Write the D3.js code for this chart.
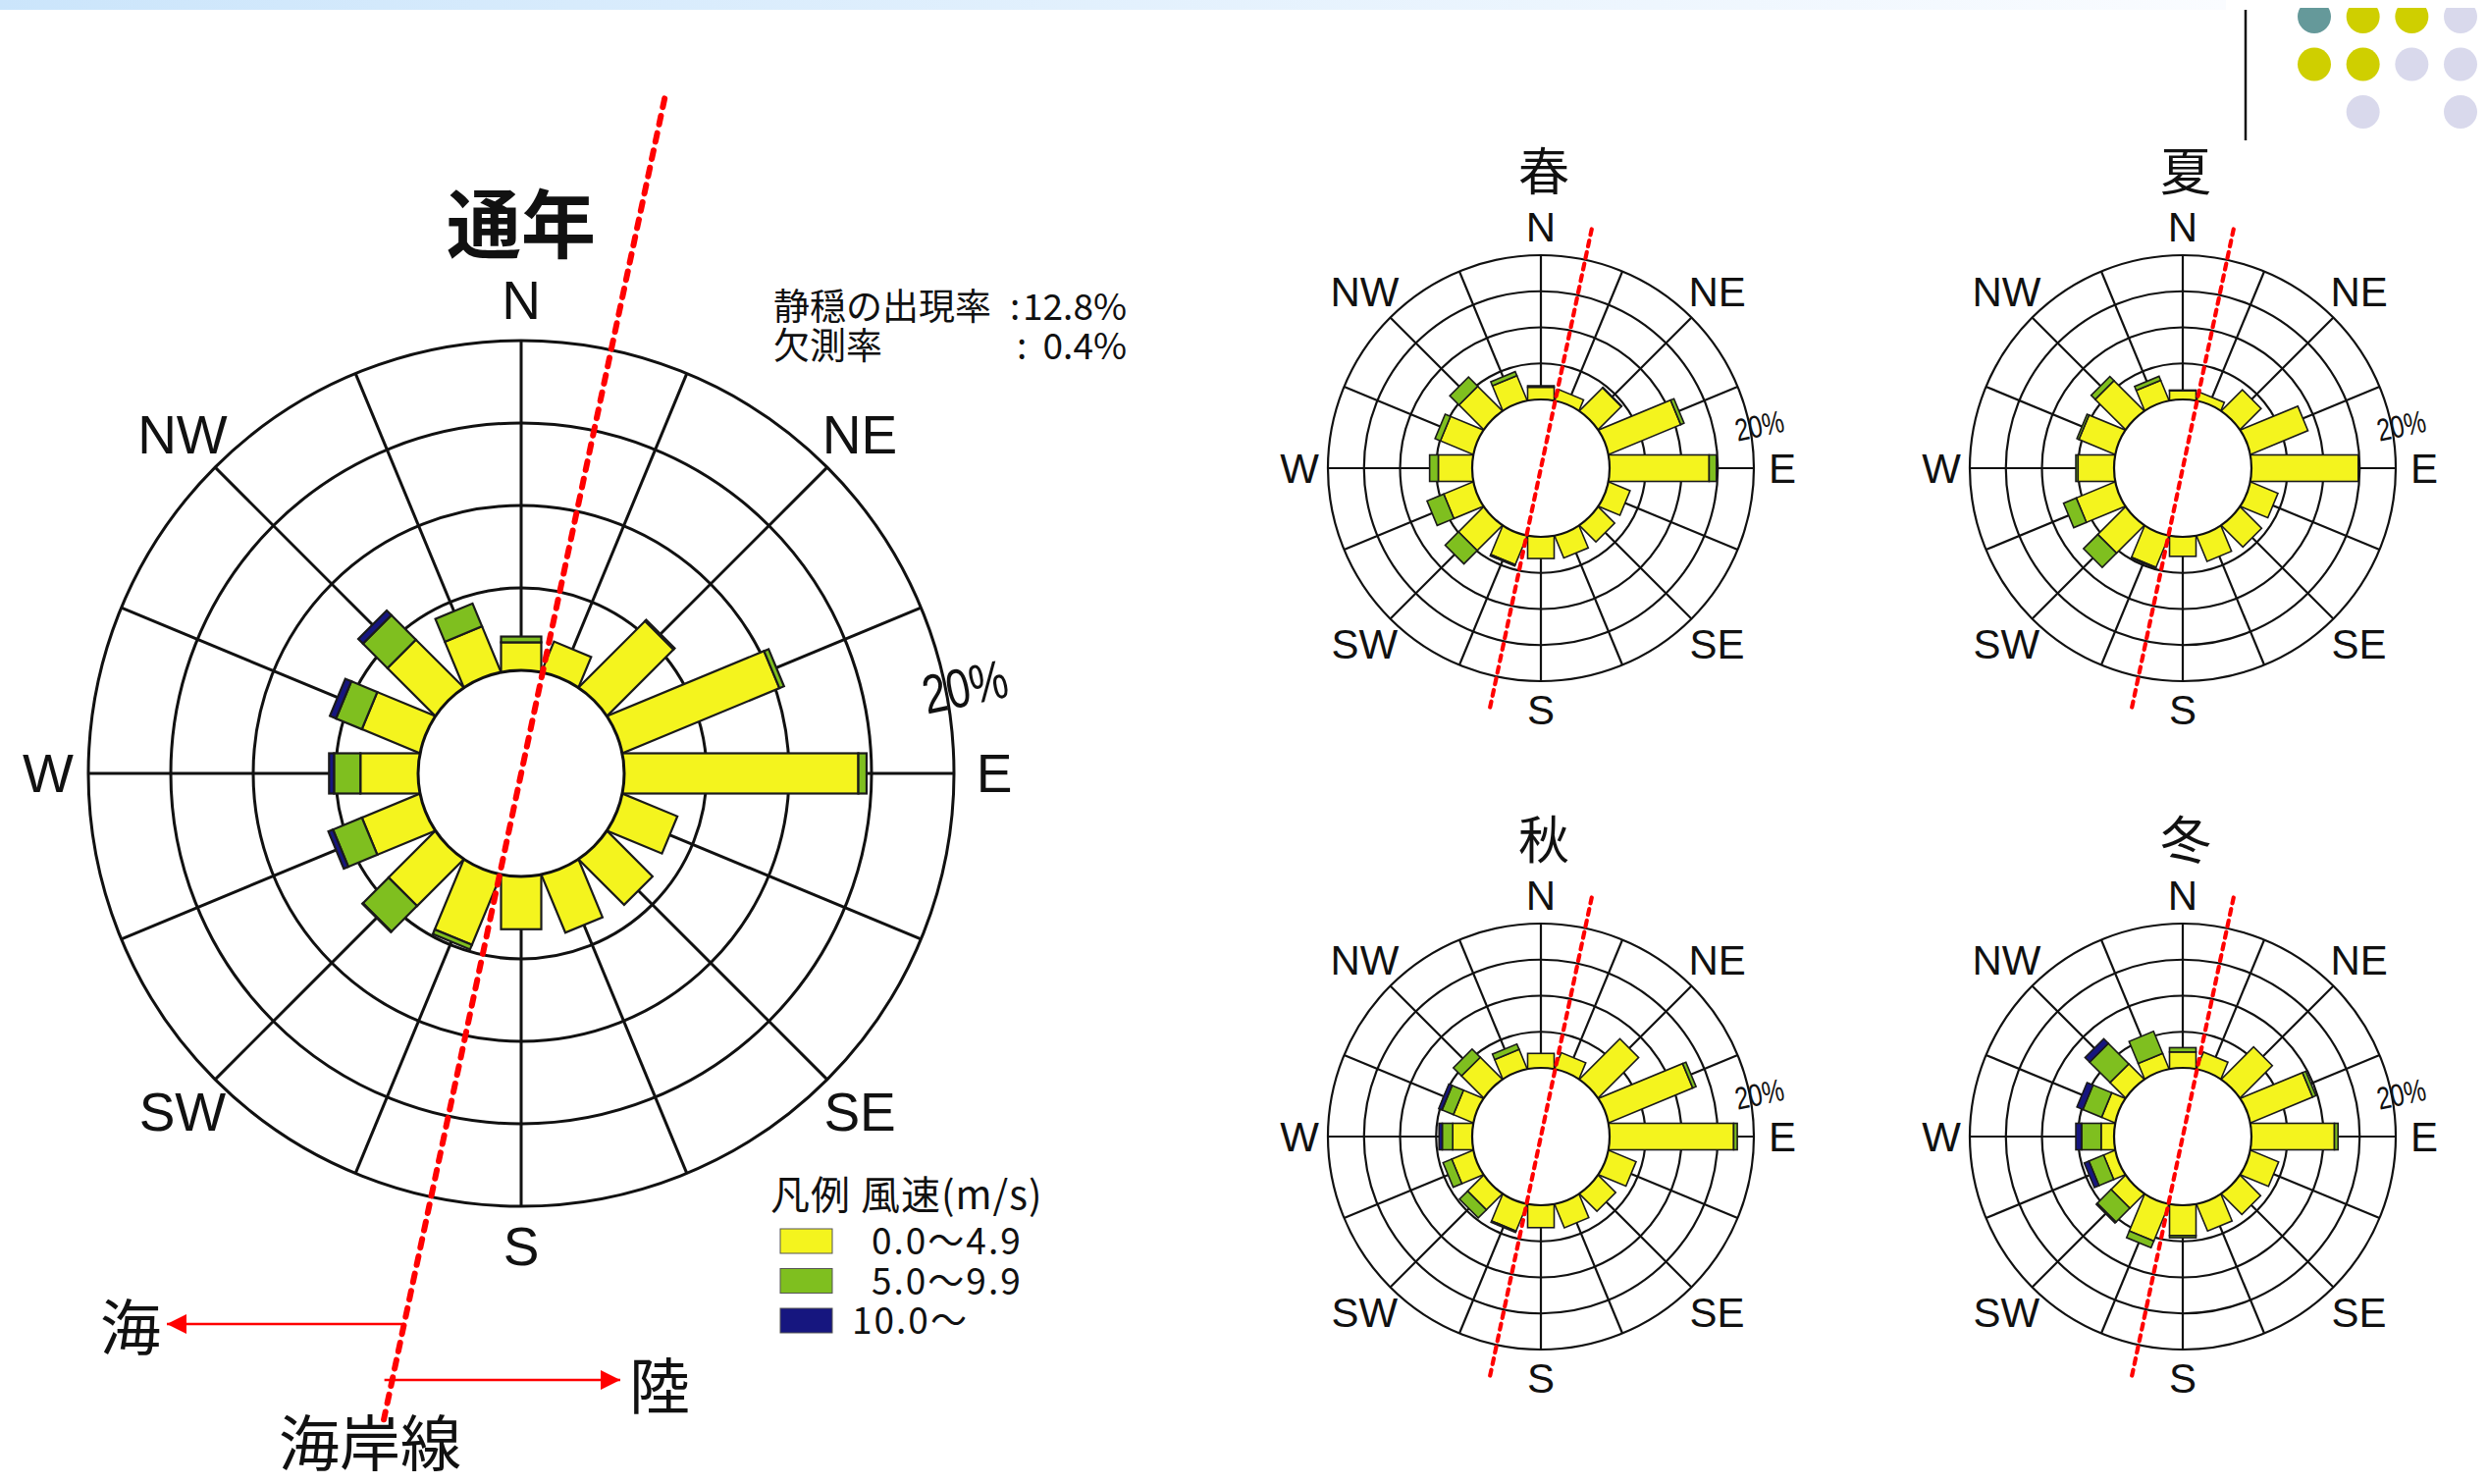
<!DOCTYPE html>
<html>
<head>
<meta charset="utf-8">
<script src="https://cdn.jsdelivr.net/npm/d3@7"></script>
<style>
  body { margin: 0; background: #fff; }
  svg { display: block; }
</style>
</head>
<body>
<div id="chart"></div>
<script>
// 16 wind directions, clockwise from north
const directions = ['N','NNE','NE','ENE','E','ESE','SE','SSE','S','SSW','SW','WSW','W','WNW','NW','NNW'];
const compassLabels = ['N','NE','E','SE','S','SW','W','NW'];
const ringTicks = [5, 10, 15, 20];
const speedKeys = ['low', 'mid', 'high'];
const speedLabels = ['0.0～4.9', '5.0～9.9', '10.0～'];
const speedColors = ['#f4f41e', '#7fbf1f', '#16167f'];

// frequency (%) per direction, split by wind speed class
// 通年
const annualLow  = [1.7, 1.9, 5.6, 10.2, 14.2, 3.5, 3.8, 3.7, 3.2, 4.5, 3.9, 3.7, 3.5, 3.7, 4.0, 2.9];
const annualMid  = [0.35, 0, 0.1, 0.3, 0.5, 0, 0, 0, 0, 0.3, 2.2, 1.9, 1.6, 1.7, 2.1, 1.5];
const annualHigh = [0, 0, 0, 0, 0, 0, 0, 0, 0, 0, 0.05, 0.3, 0.3, 0.4, 0.4, 0];
// 春
const springLow  = [1.7, 1.5, 4.4, 10.7, 13.8, 3.1, 3.1, 3.2, 3.0, 4.2, 4.8, 4.3, 4.7, 4.8, 4.7, 3.6];
const springMid  = [0.2, 0, 0.1, 0.5, 1.0, 0, 0, 0, 0, 0.2, 2.6, 2.5, 1.2, 0.8, 1.8, 0.6];
const springHigh = [0, 0, 0, 0, 0, 0, 0, 0, 0, 0, 0, 0, 0, 0, 0, 0];
// 夏
const summerLow  = [1.2, 1.1, 4.0, 8.5, 14.8, 4.0, 4.1, 3.7, 2.7, 4.6, 5.3, 5.7, 5.0, 5.3, 5.8, 2.9];
const summerMid  = [0.1, 0, 0, 0, 0, 0, 0, 0, 0, 0.15, 2.8, 1.9, 0.3, 0.3, 0.8, 0.6];
const summerHigh = [0, 0, 0, 0, 0, 0, 0, 0, 0, 0, 0, 0, 0, 0, 0, 0];
// 秋
const autumnLow  = [2.0, 2.3, 7.8, 12.5, 17.2, 4.0, 3.3, 3.4, 3.1, 3.9, 3.0, 3.1, 2.7, 2.85, 4.2, 2.8];
const autumnMid  = [0, 0, 0, 0.5, 0.5, 0, 0, 0, 0, 0.2, 1.6, 1.3, 1.45, 1.7, 1.6, 0.8];
const autumnHigh = [0, 0, 0, 0, 0, 0, 0, 0, 0, 0, 0, 0, 0.45, 0.5, 0, 0];
// 冬
const winterLow  = [2.2, 2.4, 6.2, 9.2, 11.5, 4.1, 3.9, 3.9, 4.2, 5.4, 2.7, 1.6, 1.8, 1.9, 2.9, 2.2];
const winterMid  = [0.6, 0, 0, 0.5, 0.5, 0, 0, 0, 0.3, 1.0, 2.7, 2.2, 2.7, 2.8, 4.0, 3.3];
const winterHigh = [0, 0, 0, 0, 0, 0, 0, 0, 0, 0, 0.2, 0.7, 0.8, 0.9, 0.9, 0];

const calmRate = '12.8%';
const missingRate = '0.4%';
const coastBearing = 12; // degrees from north

const W = 2535, H = 1512;
const svg = d3.select('#chart').append('svg')
  .attr('width', W).attr('height', H)
  .attr('viewBox', `0 0 ${W} ${H}`);

const defs = svg.append('defs');
const grad = defs.append('linearGradient').attr('id', 'topband');
grad.append('stop').attr('offset', '0%').attr('stop-color', '#cbe5fb');
grad.append('stop').attr('offset', '100%').attr('stop-color', '#fafcff');
defs.append('marker')
  .attr('id', 'arrowRed')
  .attr('viewBox', '0 0 10 10')
  .attr('refX', 10).attr('refY', 5)
  .attr('markerWidth', 8).attr('markerHeight', 8)
  .attr('markerUnits', 'strokeWidth')
  .attr('orient', 'auto')
  .append('path').attr('d', 'M0,0 L10,5 L0,10 Z').attr('fill', '#ff0000');
defs.append('clipPath').attr('id', 'dotClip')
  .append('rect').attr('x', 2290).attr('y', 8).attr('width', 245).attr('height', 150);

// slide decoration, top band + dots
svg.append('rect').attr('x', 0).attr('y', 0).attr('width', 2268).attr('height', 10)
  .attr('fill', 'url(#topband)');
svg.append('line').attr('x1', 2288).attr('x2', 2288).attr('y1', 10).attr('y2', 143)
  .attr('stroke', '#111').attr('stroke-width', 2.5);

const dotCols = [0, 1, 2, 3], dotRows = [0, 1, 2];
const dotColors = [
  ['#65999a', '#cfcf00', '#cfcf00', '#d9d9ec'],
  ['#cfcf00', '#cfcf00', '#d9d9ec', '#d9d9ec'],
  [null, '#d9d9ec', null, '#d9d9ec']
];
const dotX = d3.scalePoint().domain(dotCols).range([2358, 2507]);
const dotY = d3.scalePoint().domain(dotRows).range([17, 114]);
const dotG = svg.append('g').attr('clip-path', 'url(#dotClip)');
dotRows.forEach(r => dotCols.forEach(c => {
  if (!dotColors[r][c]) return;
  dotG.append('circle').attr('cx', dotX(c)).attr('cy', dotY(r)).attr('r', 17)
    .attr('fill', dotColors[r][c]);
}));

function buildRows(low, mid, high) {
  return directions.map((d, i) => ({ dir: d, low: low[i], mid: mid[i], high: high[i] }));
}

function drawRose(cfg) {
  const g = svg.append('g').attr('transform', `translate(${cfg.cx},${cfg.cy})`);
  const r = d3.scaleLinear().domain([0, 20]).range([cfg.inner, cfg.outer]);
  const angle = d3.scaleBand().domain(directions).range([0, 360]);
  const rad = a => a * Math.PI / 180;

  // rings
  g.selectAll('circle.ring').data(ringTicks).join('circle')
    .attr('class', 'ring')
    .attr('r', d => r(d))
    .attr('fill', 'none').attr('stroke', '#111').attr('stroke-width', cfg.grid);

  // spokes
  g.selectAll('line.spoke').data(directions).join('line')
    .attr('class', 'spoke')
    .attr('x1', d => cfg.inner * Math.sin(rad(angle(d))))
    .attr('y1', d => -cfg.inner * Math.cos(rad(angle(d))))
    .attr('x2', d => cfg.outer * Math.sin(rad(angle(d))))
    .attr('y2', d => -cfg.outer * Math.cos(rad(angle(d))))
    .attr('stroke', '#111').attr('stroke-width', cfg.grid);

  // stacked bars
  const stacked = d3.stack().keys(speedKeys)(cfg.rows);
  const segs = stacked.flatMap((s, k) => s.map(d => ({
    key: s.key, k, dir: d.data.dir, y0: d[0], y1: d[1]
  }))).filter(d => d.y1 - d.y0 > 0.001);
  const color = d3.scaleOrdinal().domain(speedKeys).range(speedColors);
  const hw = cfg.barWidth / 2;
  const base = Math.sqrt(cfg.inner * cfg.inner - hw * hw) - 2;

  g.selectAll('rect.seg').data(segs).join('rect')
    .attr('class', 'seg')
    .attr('transform', d => `rotate(${angle(d.dir)})`)
    .attr('x', -hw)
    .attr('width', cfg.barWidth)
    .attr('y', d => -r(d.y1))
    .attr('height', d => r(d.y1) - (d.y0 === 0 ? base : r(d.y0)))
    .attr('fill', d => color(d.key))
    .attr('stroke', '#1a1a1a').attr('stroke-width', cfg.barStroke);

  // calm circle
  g.append('circle').attr('r', cfg.inner)
    .attr('fill', '#fff').attr('stroke', '#111').attr('stroke-width', cfg.grid);

  // compass labels
  g.selectAll('text.dir').data(compassLabels).join('text')
    .attr('class', 'dir')
    .attr('x', d => {
      const rr = d.length > 1 ? cfg.labelDiag : cfg.labelR;
      return rr * Math.sin(rad(angle(d)));
    })
    .attr('y', d => {
      const rr = d.length > 1 ? cfg.labelDiag : cfg.labelR;
      return -rr * Math.cos(rad(angle(d)));
    })
    .attr('text-anchor', 'middle')
    .attr('dominant-baseline', 'central')
    .attr('font-family', "'Liberation Sans', Arial, sans-serif")
    .attr('font-size', cfg.labelSize)
    .attr('fill', '#111')
    .text(d => d);

  // 20% tick label (condensed, slightly tilted)
  const tickR = cfg.outer * 1.045, tickA = rad(79);
  g.append('text')
    .attr('transform', `translate(${tickR * Math.sin(tickA)},${-tickR * Math.cos(tickA)}) rotate(-12) scale(0.78,1)`)
    .attr('text-anchor', 'middle')
    .attr('dominant-baseline', 'central')
    .attr('font-family', "'Liberation Sans', Arial, sans-serif")
    .attr('font-size', cfg.tickSize)
    .attr('fill', '#111')
    .text(`${ringTicks[ringTicks.length - 1]}%`);

  // title
  g.append('text')
    .attr('x', cfg.titleDx).attr('y', cfg.titleDy)
    .attr('text-anchor', 'middle')
    .attr('dominant-baseline', 'central')
    .attr('font-family', "'Noto Sans CJK JP', sans-serif")
    .attr('font-weight', cfg.titleWeight)
    .attr('font-size', cfg.titleSize)
    .attr('fill', '#111')
    .text(cfg.title);

  // coastline
  const b = rad(coastBearing);
  g.append('line')
    .attr('x1', cfg.coastUp * Math.sin(b)).attr('y1', -cfg.coastUp * Math.cos(b))
    .attr('x2', -cfg.coastDown * Math.sin(b)).attr('y2', cfg.coastDown * Math.cos(b))
    .attr('stroke', '#ff0000').attr('stroke-width', cfg.coastWidth)
    .attr('stroke-linecap', 'round')
    .attr('stroke-dasharray', cfg.coastDash);

  return { g, b };
}

// main (annual) rose
const mainCx = 531, mainCy = 788;
const main = drawRose({
  cx: mainCx, cy: mainCy, inner: 105, outer: 441, barWidth: 41, grid: 3, barStroke: 2.2,
  labelR: 482, labelDiag: 488, labelSize: 55, tickSize: 56,
  title: '通年', titleDx: 0, titleDy: -564, titleSize: 76, titleWeight: 700,
  coastUp: 703, coastDown: 673, coastWidth: 6, coastDash: '9 9',
  rows: buildRows(annualLow, annualMid, annualHigh)
});

// seasonal roses
const seasonTitles = ['春', '夏', '秋', '冬'];
const seasonRows = [
  buildRows(springLow, springMid, springHigh),
  buildRows(summerLow, summerMid, summerHigh),
  buildRows(autumnLow, autumnMid, autumnHigh),
  buildRows(winterLow, winterMid, winterHigh)
];
const seasonCx = [1570, 2224, 1570, 2224];
const seasonCy = [477, 477, 1158, 1158];
seasonTitles.forEach((t, i) => {
  drawRose({
    cx: seasonCx[i], cy: seasonCy[i], inner: 70, outer: 217, barWidth: 27, grid: 2.2, barStroke: 1.6,
    labelR: 246, labelDiag: 254, labelSize: 42, tickSize: 32,
    title: t, titleDx: 3, titleDy: -306, titleSize: 52, titleWeight: 400,
    coastUp: 249, coastDown: 249, coastWidth: 4.2, coastDash: '6 6',
    rows: seasonRows[i]
  });
});

// calm / missing rates
const jp = "'Noto Sans CJK JP', sans-serif";
const stats = svg.append('g').attr('font-family', jp).attr('font-size', 37).attr('fill', '#111');
stats.append('text').attr('x', 788).attr('y', 326).text('静穏の出現率');
stats.append('text').attr('x', 1029).attr('y', 326).text(':');
stats.append('text').attr('x', 1148).attr('y', 326).attr('text-anchor', 'end').text(calmRate);
stats.append('text').attr('x', 788).attr('y', 366).text('欠測率');
stats.append('text').attr('x', 1036).attr('y', 366).text(':');
stats.append('text').attr('x', 1148).attr('y', 366).attr('text-anchor', 'end').text(missingRate);

// legend
const legend = svg.append('g').attr('font-family', jp).attr('fill', '#111');
legend.append('text').attr('x', 785).attr('y', 1232).attr('font-size', 40)
  .attr('letter-spacing', 1).text('凡例 風速(m/s)');
const legY = d3.scalePoint().domain(speedKeys).range([1252, 1333]);
const legTextX = [888, 888, 868];
speedKeys.forEach((k, i) => {
  legend.append('rect').attr('x', 795).attr('y', legY(k)).attr('width', 53).attr('height', 25)
    .attr('fill', speedColors[i]).attr('stroke', '#555').attr('stroke-width', 1);
  legend.append('text').attr('x', legTextX[i]).attr('y', legY(k) + 26)
    .attr('font-size', 37).attr('letter-spacing', 2).text(speedLabels[i]);
});

// sea / land arrows along the coastline
const coastX = y => mainCx - (y - mainCy) * Math.tan(main.b);
const ann = svg.append('g');
ann.append('line')
  .attr('x1', coastX(1349)).attr('y1', 1349).attr('x2', 170).attr('y2', 1349)
  .attr('stroke', '#ff0000').attr('stroke-width', 2.5).attr('marker-end', 'url(#arrowRed)');
ann.append('line')
  .attr('x1', coastX(1406) - 8).attr('y1', 1406).attr('x2', 632).attr('y2', 1406)
  .attr('stroke', '#ff0000').attr('stroke-width', 2.5).attr('marker-end', 'url(#arrowRed)');
ann.append('text').attr('x', 133).attr('y', 1349).attr('text-anchor', 'middle')
  .attr('dominant-baseline', 'central').attr('font-family', jp).attr('font-size', 62)
  .attr('fill', '#111').text('海');
ann.append('text').attr('x', 672).attr('y', 1409).attr('text-anchor', 'middle')
  .attr('dominant-baseline', 'central').attr('font-family', jp).attr('font-size', 62)
  .attr('fill', '#111').text('陸');
ann.append('text').attr('x', 377).attr('y', 1467).attr('text-anchor', 'middle')
  .attr('dominant-baseline', 'central').attr('font-family', jp).attr('font-size', 62)
  .attr('fill', '#111').text('海岸線');
</script>
</body>
</html>
